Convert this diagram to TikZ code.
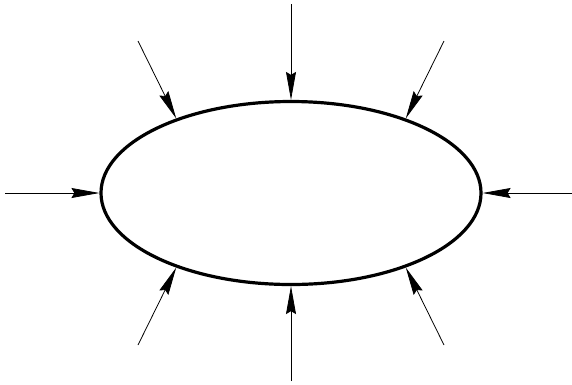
\documentclass[tikz,border=0pt]{standalone}
\usetikzlibrary{arrows.meta, shapes.geometric}

\begin{document}
\begin{tikzpicture}[x=1pt, y=-1pt]

    % Define styles
    \tikzstyle{body} = [draw, ellipse, line width=3.2pt, minimum width=380pt, minimum height=183pt, inner sep=0pt]
    \tikzstyle{push} = [-{Stealth[length=28pt, width=10pt, inset=3pt]}, line width=0.8pt]

    \useasboundingbox (0, 0) rectangle (572, 384);

    % Ellipse
    \node[body] (shell) at (291, 193) {};

    % Arrow tails
    \coordinate (top) at (291, 4);
    \coordinate (bottom) at (291, 381);
    \coordinate (left) at (5, 193);
    \coordinate (right) at (572, 193);
    \coordinate (topleft) at (138, 41);
    \coordinate (topright) at (444, 41);
    \coordinate (botleft) at (138, 345);
    \coordinate (botright) at (444, 345);

    % Forces on the ellipse
    \draw[push] (top) -- (shell.north);
    \draw[push] (bottom) -- (shell.south);
    \draw[push] (left) -- (shell.west);
    \draw[push] (right) -- (shell.east);
    \draw[push] (topleft) -- (shell.147);
    \draw[push] (topright) -- (shell.33);
    \draw[push] (botleft) -- (shell.213);
    \draw[push] (botright) -- (shell.327);

\end{tikzpicture}
\end{document}
